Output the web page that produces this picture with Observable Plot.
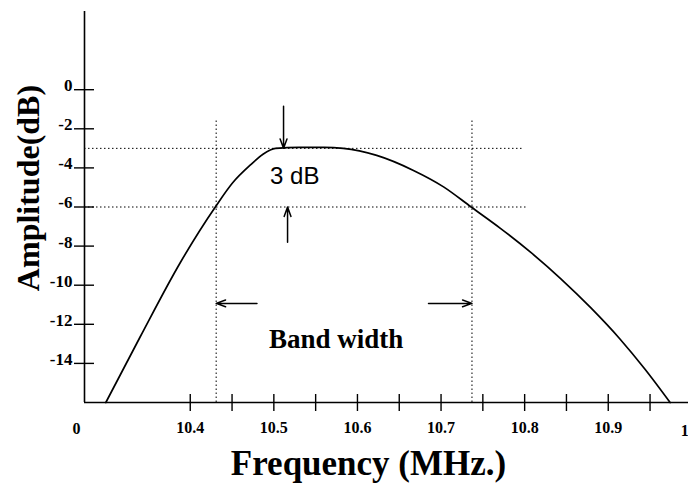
<!DOCTYPE html>
<html><head><meta charset="utf-8">
<script src="https://cdn.jsdelivr.net/npm/d3@7"></script>
<script src="https://cdn.jsdelivr.net/npm/@observablehq/plot@0.6"></script>
<style>body{margin:0;background:#fff} svg{display:block}</style>
</head><body><div id="chart"></div>
<script>
// Response curve (MHz, dB)
const freq = [10.299, 10.340, 10.388, 10.430, 10.451, 10.472, 10.487, 10.502, 10.530, 10.560, 10.583, 10.623, 10.667, 10.703, 10.736, 10.771, 10.807, 10.843, 10.879, 10.914, 10.944, 10.974];
const amp  = [-16, -12.65, -8.85, -6.0, -4.75, -3.85, -3.3, -3.0, -2.95, -2.95, -3.0, -3.36, -4.13, -4.97, -6.0, -7.09, -8.31, -9.66, -11.15, -12.75, -14.3, -16];

// Axis settings
const xDomain = [10.2735, 10.996];
const yDomain = [-16, 4];
const xTicks = [10.4, 10.45, 10.5, 10.55, 10.6, 10.65, 10.7, 10.75, 10.8, 10.85, 10.9, 10.95];
const xLabelValues = [10.4, 10.5, 10.6, 10.7, 10.8, 10.9];
const xLabelTexts = ["10.4", "10.5", "10.6", "10.7", "10.8", "10.9"];
const xEndLabel = {x: 11.0, text: "1"};
const xOriginLabel = "0";
const yTicks = [0, -2, -4, -6, -8, -10, -12, -14];
const yLabelTexts = ["0", "-2", "-4", "-6", "-8", "-10", "-12", "-14"];

// Reference lines (-3 dB / -6 dB) and band edges
const hLevels = [-3, -6];
const hEnds = [10.797, 10.804];
const vFreqs = [10.431, 10.737];
const vTop = -1.6;

// Arrows
const arrowX1 = [10.5116, 10.5164, 10.4798, 10.685];
const arrowY1 = [-0.85, -7.8, -10.93, -10.93];
const arrowX2 = [10.5116, 10.5164, 10.431, 10.737];
const arrowY2 = [-3.0, -6.0, -10.93, -10.93];

// Annotations
const noteText = ["3 dB", "Band width"];
const noteX = [10.525, 10.5746];
const noteY = [-4.44, -12.75];

const xTitle = "Frequency (MHz.)";
const yTitle = "Amplitude(dB)";

const curve = freq.map((f, i) => ({f, a: amp[i]}));
const hLines = hLevels.map((y, i) => ({y, x2: hEnds[i]}));
const arrows = arrowX1.map((x, i) => ({x1: x, y1: arrowY1[i], x2: arrowX2[i], y2: arrowY2[i]}));
const notes = noteText.map((t, i) => ({t, x: noteX[i], y: noteY[i]}));
const xLab = new Map(xLabelValues.map((v, i) => [v, xLabelTexts[i]]));
const yLab = new Map(yTicks.map((v, i) => [v, yLabelTexts[i]]));

const serif = "'Liberation Serif', 'Times New Roman', serif";
const sans = "'Liberation Sans', Arial, sans-serif";

const chart = Plot.plot({
  width: 688, height: 504,
  marginLeft: 84, marginRight: 0, marginTop: 11, marginBottom: 102,
  style: {fontFamily: serif, background: "#fff", color: "#000", overflow: "visible"},
  x: {domain: xDomain},
  y: {domain: yDomain},
  marks: [
    // dotted reference lines
    Plot.ruleY(hLines, {y: "y", x1: xDomain[0], x2: "x2", stroke: "#000", strokeWidth: 1, strokeDasharray: "1.5,2.5"}),
    Plot.ruleX(vFreqs, {x: d => d, y1: yDomain[0], y2: vTop, stroke: "#000", strokeWidth: 1, strokeDasharray: "1.5,2.5"}),
    // axes lines
    Plot.ruleX([xDomain[0]], {y1: yDomain[0], y2: yDomain[1], stroke: "#000", strokeWidth: 1.6}),
    Plot.ruleY([yDomain[0]], {x1: xDomain[0], x2: xDomain[1], stroke: "#000", strokeWidth: 1.6}),
    // tick marks crossing the axes
    Plot.axisX({ticks: xTicks, tickSize: 17, dy: -8, tickFormat: () => "", label: null, strokeWidth: 1.4}),
    Plot.axisY({ticks: yTicks, tickSize: 20, dx: 10, tickFormat: () => "", label: null, strokeWidth: 1.4}),
    // tick labels
    Plot.axisX({ticks: xLabelValues, tickSize: 0, tickPadding: 19, tickFormat: d => xLab.get(d), label: null, fontSize: 16, fontWeight: "bold", fontFamily: serif}),
    Plot.axisY({ticks: yTicks, tickSize: 0, tickPadding: 12, dy: -4, tickFormat: d => yLab.get(d), label: null, fontSize: 17, fontWeight: "bold", fontFamily: serif}),
    Plot.text([xEndLabel], {x: "x", y: yDomain[0], text: "text", dx: -7, dy: 28, fontSize: 16, fontWeight: "bold", fontFamily: serif}),
    Plot.text([xOriginLabel], {x: xDomain[0], y: yDomain[0], text: d => d, dx: -8, dy: 26, fontSize: 16, fontWeight: "bold", fontFamily: serif}),
    // response curve
    Plot.line(curve, {x: "f", y: "a", curve: "monotone-x", stroke: "#000", strokeWidth: 1.7}),
    // arrows
    Plot.arrow(arrows, {x1: "x1", y1: "y1", x2: "x2", y2: "y2", stroke: "#000", strokeWidth: 1.5, headLength: 10, headAngle: 40}),
    // annotations
    Plot.text([notes[0]], {x: "x", y: "y", text: "t", fontSize: 24, fontFamily: sans}),
    Plot.text([notes[1]], {x: "x", y: "y", text: "t", fontSize: 27, fontWeight: "bold", fontFamily: serif}),
    // axis titles
    Plot.text([xTitle], {frameAnchor: "bottom", text: d => d, textAnchor: "middle", dx: -18, dy: 61, lineAnchor: "middle", fontSize: 35, fontWeight: "bold", fontFamily: serif}),
    Plot.text([yTitle], {frameAnchor: "left", text: d => d, textAnchor: "middle", rotate: -90, dx: -56, dy: -19, lineAnchor: "middle", fontSize: 32, fontWeight: "bold", fontFamily: serif})
  ]
});
document.getElementById("chart").appendChild(chart);
</script>
</body></html>
